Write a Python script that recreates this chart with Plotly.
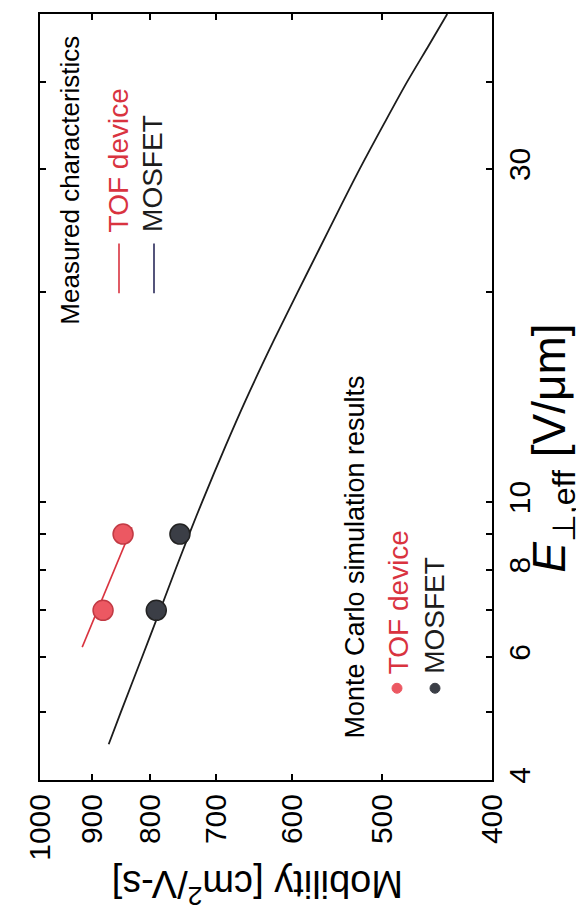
import numpy as np
import plotly.graph_objects as go

# ---- data ----
# Measured characteristics
mosfet_meas_E = [4.5, 5, 6, 7, 8, 9, 10, 12, 14, 17, 20, 23, 26, 30, 35, 40, 45, 50]
mosfet_meas_mu = [870, 849, 813, 784, 760, 739, 720, 687, 659, 623, 593, 568, 547, 523, 497, 475, 455, 438]
tof_meas_E = [6.2, 9.2]
tof_meas_mu = [918, 830]
# Monte Carlo simulation results
mc_E = [7, 9]
mc_tof_mu = [880, 845]
mc_mosfet_mu = [790, 753]

mu_ticks = [400, 500, 600, 700, 800, 900, 1000]
mu_ticklabels = ["400", "500", "600", "700", "800", "900", "1000"]
E_ticks = [4, 5, 6, 7, 8, 9, 10, 20, 30, 40, 50]
E_ticklabels = ["4", "", "6", "", "8", "", "10", "", "30", "", ""]

RED = "#d9333f"
RED_FILL = "#ec5862"
DARK = "#1c1c1c"
DARK_FILL = "#3b3e46"
FONT = "Liberation Sans, Arial, sans-serif"

fig = go.Figure()
fig.add_trace(go.Scatter(x=mosfet_meas_mu, y=mosfet_meas_E, mode="lines",
                         line=dict(color=DARK, width=1.8, shape="spline", smoothing=0.8),
                         showlegend=False))
fig.add_trace(go.Scatter(x=tof_meas_mu, y=tof_meas_E, mode="lines",
                         line=dict(color=RED, width=1.6), showlegend=False))
fig.add_trace(go.Scatter(x=mc_tof_mu, y=mc_E, mode="markers",
                         marker=dict(size=20, color=RED_FILL, line=dict(color="#c23a44", width=1.5)),
                         showlegend=False))
fig.add_trace(go.Scatter(x=mc_mosfet_mu, y=mc_E, mode="markers",
                         marker=dict(size=20, color=DARK_FILL, line=dict(color="#222", width=1.5)),
                         showlegend=False))

# plot frame in pixels: x 32..484, y 4..772
L, R, T, B = 32, 484, 4, 772
W, H = R - L, B - T

def px(x):
    return (x - L) / W

def py(y):
    return (B - y) / H

ann = []
def text(s, x, y, size, color="black", xanchor="center", yanchor="middle", angle=-90):
    ann.append(dict(text=s, x=px(x), y=py(y), xref="paper", yref="paper", showarrow=False,
                    textangle=angle, xanchor=xanchor, yanchor=yanchor,
                    font=dict(size=size, color=color, family=FONT)))

# legend: measured
text("Measured characteristics", 62, 318, 26, yanchor="bottom")
text("TOF device", 110, 225, 28, color=RED, yanchor="bottom")
text("MOSFET", 145, 225, 28, color=DARK, yanchor="bottom")
# legend: Monte Carlo
text("Monte Carlo simulation results", 347, 733, 27, yanchor="bottom")
text("TOF device", 390, 668, 28, color=RED, yanchor="bottom")
text("MOSFET", 427, 668, 28, color=DARK, yanchor="bottom")
# axis titles
text("Mobility [cm<sup>2</sup>/V-s]", 250, 880, 38, angle=180)
text("<i>E</i><sub>\u22a5,eff</sub> [V/\u03bcm]", 545, 440, 46)

shapes = []
shapes.append(dict(type="line", xref="paper", yref="paper", x0=px(111), x1=px(111),
                   y0=py(284), y1=py(234), line=dict(color=RED, width=1.6)))
shapes.append(dict(type="line", xref="paper", yref="paper", x0=px(146), x1=px(146),
                   y0=py(284), y1=py(234), line=dict(color="#2a2a5a", width=1.6)))
for cx, fill in [(389, RED_FILL), (427, DARK_FILL)]:
    r = 5
    shapes.append(dict(type="circle", xref="paper", yref="paper",
                       x0=px(cx - r), x1=px(cx + r), y0=py(680 + r), y1=py(680 - r),
                       fillcolor=fill, line=dict(color=fill, width=1)))

fig.update_layout(
    width=584, height=921,
    margin=dict(l=L, r=584 - R, t=T, b=921 - B),
    paper_bgcolor="white", plot_bgcolor="white",
    font=dict(family=FONT, size=30, color="black"),
    annotations=ann, shapes=shapes,
    xaxis=dict(type="log", range=[np.log10(1000), np.log10(400)],
               tickvals=mu_ticks, ticktext=mu_ticklabels, tickangle=-90,
               ticks="inside", ticklen=6, tickwidth=1.5, tickcolor="black",
               showline=True, linecolor="black", linewidth=2, mirror="ticks",
               showgrid=False, zeroline=False, tickfont=dict(size=30)),
    yaxis=dict(type="log", range=[np.log10(4), np.log10(50)], side="right",
               tickvals=E_ticks, ticktext=E_ticklabels, tickangle=-90,
               ticks="inside", ticklen=6, tickwidth=1.5, tickcolor="black",
               showline=True, linecolor="black", linewidth=2, mirror="ticks",
               showgrid=False, zeroline=False, tickfont=dict(size=30)),
)

fig.write_html("out.html")
